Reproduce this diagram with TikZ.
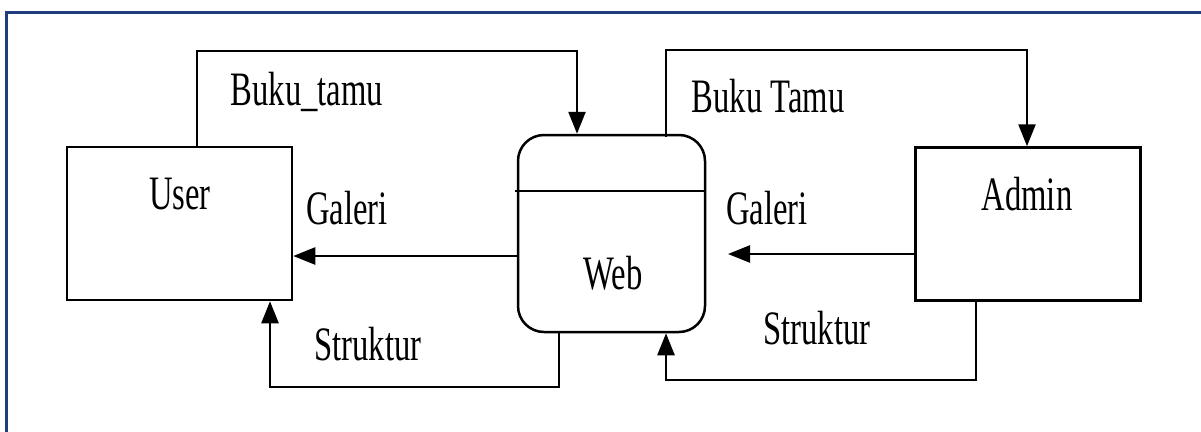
\documentclass[tikz,border=0pt]{standalone}
\usepackage{fontspec}
\setmainfont{Liberation Serif}
\usetikzlibrary{arrows.meta}
\definecolor{framecol}{HTML}{1F3C7C}
\newcommand\sqz[1]{\scalebox{0.68}[1]{#1}}
\tikzset{
  ent/.style={draw, line width=2.5pt, minimum width=225pt, minimum height=153pt, inner sep=0pt},
  proc/.style={draw, line width=2.5pt, rounded corners=26pt, minimum width=187pt, minimum height=197pt, inner sep=0pt},
  flow/.style={line width=2.5pt, -{Triangle[length=22pt,width=17pt]}},
  lbl/.style={font=\fontsize{48}{52}\selectfont, inner sep=0pt},
}
\begin{document}
\begin{tikzpicture}[x=1pt,y=-1pt]
\useasboundingbox (0,0) rectangle (1201,431);
\clip (0,0) rectangle (1201,431);
\fill[white] (0,0) rectangle (1201,431);
\draw[framecol, line width=2.5pt] (6.5,440) -- (6.5,12.5) -- (1210,12.5);
% nodes
\node[ent] (user) at (179.5,223.5) {};
\node[ent] (admin) at (1028,224) {};
\node[proc] (web) at (611.5,233.5) {};
\draw[line width=2.5pt] (515,191) -- (705,191);
% labels
\node[lbl] (tuser) at (180,194) {\sqz{User}};
\node[lbl] (tadmin) at (1027,194) {\sqz{Admin}};
\node[lbl] (tweb) at (613,273) {\sqz{Web}};
\node[lbl] (lbt1) at (307,92) {\sqz{Buku\_tamu}};
\node[lbl] (lbt2) at (768,96) {\sqz{Buku Tamu}};
\node[lbl] (lg1) at (347,208) {\sqz{Galeri}};
\node[lbl] (lg2) at (767,208) {\sqz{Galeri}};
\node[lbl] (ls1) at (368,344) {\sqz{Struktur}};
\node[lbl] (ls2) at (817,328) {\sqz{Struktur}};
% connectors
\coordinate (b1a) at (197,51);
\coordinate (b1b) at (577,51);
\draw[flow] (user.north -| b1a) -- (b1a) -- (b1b) -- (b1b |- web.north);
\coordinate (b2a) at (666,50);
\coordinate (b2b) at (1027,50);
\draw[flow] ([yshift=-3pt]web.north -| b2a) -- (b2a) -- (b2b) -- (b2b |- admin.north);
\draw[flow] (web.west |- 0,256) -- (user.east |- 0,256);
\draw[flow] (admin.west |- 0,254) -- (728,254);
\coordinate (s1a) at (559,387);
\coordinate (s1b) at (270,387);
\draw[flow] (web.south -| s1a) -- (s1a) -- (s1b) -- (s1b |- user.south);
\coordinate (s2a) at (976,380);
\coordinate (s2b) at (666,380);
\draw[flow] (admin.south -| s2a) -- (s2a) -- (s2b) -- (s2b |- web.south);
\end{tikzpicture}
\end{document}
